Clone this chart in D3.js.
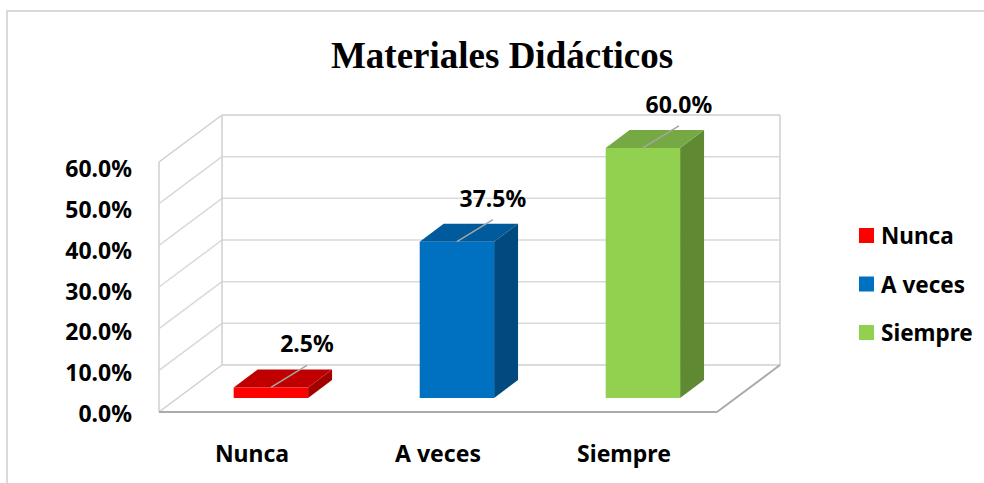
<!DOCTYPE html>
<html>
<head>
<meta charset="utf-8">
<script src="https://cdn.jsdelivr.net/npm/d3@7"></script>
<style>
  html, body { margin: 0; padding: 0; background: #fff; }
  svg { display: block; }
</style>
</head>
<body>
<svg id="chart" width="984" height="483"></svg>
<script>
// ---- data ----
const title = "Materiales Didácticos";
const categories = ["Nunca", "A veces", "Siempre"];
const values = [0.025, 0.375, 0.60];
const valueLabels = ["2.5%", "37.5%", "60.0%"];
const tickValues = [0, 0.1, 0.2, 0.3, 0.4, 0.5, 0.6];
const tickLabels = ["0.0%", "10.0%", "20.0%", "30.0%", "40.0%", "50.0%", "60.0%"];
const frontColors = ["#FF0000", "#0070C0", "#92D050"];
const topColors   = ["#C00000", "#005A9C", "#76A843"];
const sideColors  = ["#A30000", "#004A80", "#5F8A33"];

// ---- layout ----
const svg = d3.select("#chart");
const W = 984, H = 483;
const depth = { dx: 63, dy: -47 };           // back-wall offset
const barDepth = [0.30, 0.68];               // bar front / back depth fractions
const sans = "'Noto Sans', 'Open Sans', sans-serif";

const x = d3.scaleBand().domain(categories).range([159, 717]).paddingInner(0.6).paddingOuter(0.3);
const y = d3.scaleLinear().domain([0, 0.6]).range([412, 162]);
const yLabel = d3.scaleLinear().domain([0, 0.6]).range([422, 177]);
const color = d3.scaleOrdinal().domain(categories).range(frontColors);

// chart area border
svg.append("rect").attr("x", 7).attr("y", 11).attr("width", W + 20).attr("height", H + 20)
  .attr("fill", "#fff").attr("stroke", "#d9d9d9").attr("stroke-width", 2);

// title
svg.append("text").attr("x", 502).attr("y", 68).attr("text-anchor", "middle")
  .attr("font-family", "'Liberation Serif', 'Times New Roman', serif")
  .attr("font-weight", "bold").attr("font-size", 37).attr("fill", "#000")
  .text(title);

const pt = (px, py, f) => [px + depth.dx * f, py + depth.dy * f];
const line = d3.line();
const [xL, xR] = x.range();
const yTop = y(0.6), yBot = y(0);

// walls / gridlines
const g = svg.append("g");
tickValues.forEach(v => {
  if (v === 0 || v === 0.6) return;
  g.append("path").attr("d", line([pt(xL, y(v), 0), pt(xL, y(v), 1)]))
    .attr("stroke", "#d9d9d9").attr("stroke-width", 1.5).attr("fill", "none");
  g.append("path").attr("d", line([pt(xL, y(v), 1), pt(xR, y(v), 1)]))
    .attr("stroke", "#d9d9d9").attr("stroke-width", 1.5).attr("fill", "none");
});
const edges = [
  [pt(xL, yBot, 0), pt(xL, yTop, 0)],
  [pt(xL, yTop, 0), pt(xL, yTop, 1)],
  [pt(xL, yTop, 1), pt(xR, yTop, 1)],
  [pt(xL, yTop, 1), pt(xL, yBot, 1)],
  [pt(xR, yTop, 1), pt(xR, yBot, 1)],
  [pt(xL, yBot, 0), pt(xL, yBot, 1)],
  [pt(xL, yBot, 1), pt(xR, yBot, 1)]
];
edges.forEach(e => g.append("path").attr("d", line(e))
  .attr("stroke", "#cfcfcf").attr("stroke-width", 1.5).attr("fill", "none"));
[[pt(xL, yBot, 0), pt(xR, yBot, 0)], [pt(xR, yBot, 0), pt(xR, yBot, 1)]]
  .forEach(e => g.append("path").attr("d", line(e))
    .attr("stroke", "#ababab").attr("stroke-width", 2).attr("fill", "none"));

// bars
const bars = svg.append("g");
categories.forEach((c, i) => {
  const v = values[i];
  const [f0, f1] = barDepth;
  const x0 = x(c), x1 = x(c) + x.bandwidth();
  const front = [pt(x0, y(v), f0), pt(x1, y(v), f0), pt(x1, y(0), f0), pt(x0, y(0), f0)];
  const top = [pt(x0, y(v), f0), pt(x0, y(v), f1), pt(x1, y(v), f1), pt(x1, y(v), f0)];
  const side = [pt(x1, y(v), f0), pt(x1, y(v), f1), pt(x1, y(0), f1), pt(x1, y(0), f0)];
  bars.append("path").attr("d", line(side) + "Z").attr("fill", sideColors[i]);
  bars.append("path").attr("d", line(top) + "Z").attr("fill", topColors[i]);
  bars.append("path").attr("d", line(front) + "Z").attr("fill", color(c));

  const s = pt((x0 + x1) / 2, y(v), f0);
  bars.append("path").attr("d", line([s, [s[0] + 36, s[1] - 22]]))
    .attr("stroke", "#a6a6a6").attr("stroke-width", 1.5);
  bars.append("text").attr("x", s[0] + 36).attr("y", s[1] - 35)
    .attr("text-anchor", "middle").attr("font-family", sans)
    .attr("font-weight", "bold").attr("font-size", 23).attr("fill", "#000")
    .text(valueLabels[i]);
});

// y tick labels
svg.append("g").selectAll("text").data(tickValues).join("text")
  .attr("x", 132).attr("y", d => yLabel(d))
  .attr("text-anchor", "end").attr("font-family", sans)
  .attr("font-weight", "bold").attr("font-size", 23).attr("fill", "#000")
  .text((d, i) => tickLabels[i]);

// category labels
svg.append("g").selectAll("text").data(categories).join("text")
  .attr("x", d => x(d) + x.bandwidth() / 2)
  .attr("y", 462)
  .attr("text-anchor", "middle").attr("font-family", sans)
  .attr("font-weight", "bold").attr("font-size", 23).attr("fill", "#000")
  .text(d => d);

// legend
const leg = svg.append("g").attr("transform", "translate(859,228)");
categories.forEach((c, i) => {
  leg.append("rect").attr("x", 0).attr("y", i * 48.5).attr("width", 15).attr("height", 15)
    .attr("fill", color(c));
  leg.append("text").attr("x", 22).attr("y", i * 48.5 + 16)
    .attr("font-family", sans).attr("font-weight", "bold").attr("font-size", 22.5)
    .attr("fill", "#000").text(c);
});
</script>
</body>
</html>
